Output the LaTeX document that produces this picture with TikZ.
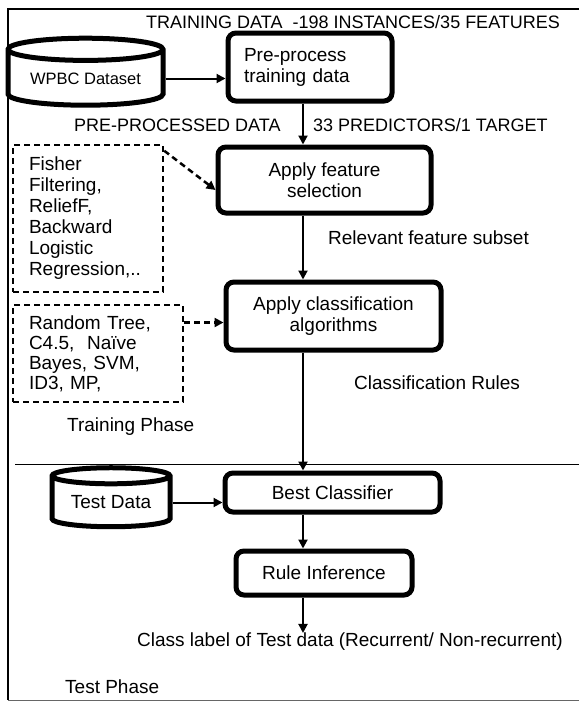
\documentclass[tikz,border=0pt]{standalone}
\usepackage{fontspec}
\setmainfont{Liberation Sans}
\usetikzlibrary{arrows.meta,shapes.geometric}

\tikzset{
	stepbox/.style={draw, line width=5pt, rounded corners=8pt, align=center, inner sep=0pt},
	listbox/.style={draw, dashed, dash pattern=on 6pt off 4pt, line width=2.5pt, align=left, inner xsep=16pt, inner ysep=0pt},
	datastore/.style={draw, cylinder, shape border rotate=90, aspect=0.2, line width=5pt, inner sep=0pt},
	flow/.style={->, line width=2pt},
	hint/.style={->, line width=2.5pt, dash pattern=on 6pt off 4pt},
	caption/.style={anchor=west, inner sep=0pt},
	capsline/.style={caption, font=\fontsize{18}{21}\selectfont},
}

\begin{document}
\begin{tikzpicture}[x=1pt, y=-1pt, >={Triangle[length=9pt,width=9pt]},
	font=\fontsize{19}{21}\selectfont]

% frame %{{{2

	\useasboundingbox (0,0) rectangle (579,702);
	\draw[line width=1.8pt] (579,9) -- (8,9) -- (8,700);
	\draw[line width=1pt, black!60] (8,700) -- (579,700);
	\draw[line width=1pt] (15,464) -- (579,464);

% column of the flow %{{{2

	\coordinate (col) at (303,0);

% training phase %{{{2

	\node[datastore, minimum width=155pt, minimum height=67pt,
		font=\fontsize{16.5}{19}\selectfont] (wpbc) at (85.5,78.5) {WPBC Dataset};

	\node[stepbox, align=left, minimum width=164pt, minimum height=68pt, text width=132pt]
		(prep) at (310,67) {Pre-process\\training data};

	\node[stepbox, minimum width=213pt, minimum height=66pt] (sel) at (324.5,180)
		{Apply feature\\selection};

	\node[stepbox, minimum width=215pt, minimum height=68pt] (cls) at (333.5,316)
		{Apply classification\\algorithms};

	\node[listbox, text width=118pt, minimum height=147pt] (fs) at (88,218.5)
		{Fisher\\Filtering,\\ReliefF,\\Backward\\Logistic\\Regression,..};

	\node[listbox, text width=138pt, minimum height=97pt, font=\fontsize{19}{20}\selectfont]
		(alg) at (98,353.5) {Random Tree,\\C4.5,~ Naïve\\Bayes, SVM,\\ID3, MP,};

% test phase %{{{2

	\node[datastore, minimum width=118pt, minimum height=59pt] (test) at (111,502.5)
		{Test Data};

	\node[stepbox, minimum width=215pt, minimum height=39pt] (best) at (332.5,492.5)
		{Best Classifier};

	\node[stepbox, minimum width=176pt, minimum height=44pt] (rule) at (324,573)
		{Rule Inference};

% texts %{{{2

	\node[capsline] (title) at (146,22) {TRAINING DATA ~-198 INSTANCES/35 FEATURES};
	\node[capsline] (ppd) at (74,125) {PRE-PROCESSED DATA};
	\node[capsline] (pred) at (313,125) {33 PREDICTORS/1 TARGET};
	\node[caption] (subset) at (328,238) {Relevant feature subset};
	\node[caption] (rules) at (354,383) {Classification Rules};
	\node[caption] (train) at (67,427) {Training Phase};
	\node[caption] (label) at (137,642) {Class label of Test data (Recurrent/ Non-recurrent)};
	\node[caption] (phase) at (65,687) {Test Phase};

% arrows %{{{2

	\draw[flow] (wpbc.east) -- (wpbc.east -| prep.west);
	\draw[flow] (prep.south -| col) -- (sel.north -| col);
	\draw[flow] (sel.south -| col) -- (cls.north -| col);
	\draw[flow] (cls.south -| col) -- (best.north -| col);
	\draw[flow] (test.east) -- (test.east -| best.west);
	\draw[flow] (best.south -| col) -- (rule.north -| col);
	\draw[flow] (rule.south -| col) -- (label.north -| col);

	\draw[hint] ([yshift=-7pt]fs.north east) -- ([yshift=-10pt]sel.west);
	\draw[hint] ([yshift=31pt]alg.east) -- ([yshift=31pt]alg.east -| cls.west);

% closing %{{{2

\end{tikzpicture}
\end{document}
